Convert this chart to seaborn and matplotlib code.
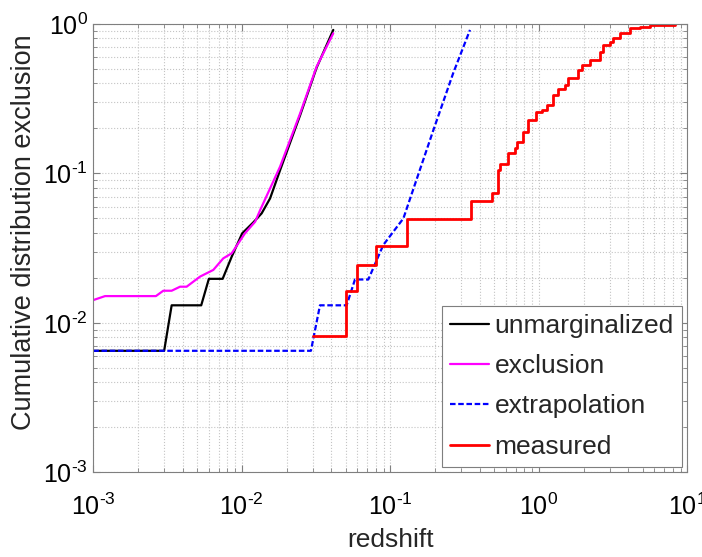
import matplotlib

matplotlib.use("Agg")
import matplotlib.pyplot as plt
from matplotlib.ticker import FuncFormatter
import numpy as np
import seaborn as sns

# values (redshift, cumulative fraction)
unmarg_z = [0.001, 0.0030, 0.00337, 0.00533, 0.0060, 0.00743, 0.00855, 0.01006,
            0.0119, 0.0136, 0.0155, 0.0181, 0.0247, 0.0319, 0.0413]
unmarg_c = [0.0065, 0.0065, 0.0131, 0.0131, 0.0197, 0.0197, 0.0277, 0.0397,
            0.0468, 0.054, 0.068, 0.105, 0.245, 0.51, 0.912]

excl_z = [0.001, 0.0012, 0.00264, 0.00296, 0.00337, 0.00384, 0.00425, 0.00524,
          0.00643, 0.0075, 0.00855, 0.0105, 0.0123, 0.0133, 0.0181, 0.0247,
          0.0319, 0.0413]
excl_c = [0.0142, 0.0151, 0.0151, 0.0164, 0.0164, 0.01745, 0.01745, 0.0204,
          0.0226, 0.027, 0.0292, 0.0397, 0.0475, 0.0569, 0.111, 0.252,
          0.518, 0.866]

extrap_z = [0.001, 0.0292, 0.0336, 0.0508, 0.0578, 0.0711, 0.0897, 0.1225,
            0.158, 0.195, 0.265, 0.344]
extrap_c = [0.0065, 0.0065, 0.0131, 0.0131, 0.0195, 0.0195, 0.0332, 0.0500,
            0.1054, 0.195, 0.468, 0.912]

meas_z = [0.0303, 0.0501, 0.060, 0.0802, 0.130, 0.349, 0.486, 0.529, 0.548,
          0.623, 0.692, 0.710, 0.787, 0.850, 0.957, 1.046, 1.13, 1.252,
          1.352, 1.50, 1.58, 1.845, 1.945, 2.21, 2.58, 2.72, 3.02, 3.18,
          3.52, 4.11, 4.80, 5.60, 8.3]
meas_c = [0.0082, 0.0163, 0.0244, 0.0327, 0.0493, 0.0653, 0.0743, 0.1054,
          0.115, 0.136, 0.147, 0.163, 0.190, 0.228, 0.259, 0.266, 0.287,
          0.335, 0.366, 0.391, 0.433, 0.492, 0.531, 0.574, 0.652, 0.723,
          0.761, 0.802, 0.867, 0.936, 0.959, 0.985, 1.0]


def pow10_label(v, pos):
    # matlab-style label: 10 with a short hyphen in the exponent
    e = int(round(np.log10(v)))
    exp = str(e).replace("-", r"\text{-}")
    return r"$10^{%s}$" % exp


def main() -> None:
    sns.set_style("ticks")
    plt.rcParams["font.family"] = ["Liberation Sans", "DejaVu Sans"]
    plt.rcParams["mathtext.fontset"] = "custom"
    plt.rcParams["mathtext.rm"] = "Liberation Sans"
    plt.rcParams["mathtext.it"] = "Liberation Sans:italic"

    fig = plt.figure(figsize=(7.02, 5.57), dpi=100)
    ax = fig.add_axes([0.1329, 0.1521, 0.8462, 0.8049])

    lw = 1.6
    sns.lineplot(x=unmarg_z, y=unmarg_c, ax=ax, color="black", lw=lw,
                 sort=False, estimator=None, label="unmarginalized")
    sns.lineplot(x=excl_z, y=excl_c, ax=ax, color="#ff00ff", lw=lw,
                 sort=False, estimator=None, label="exclusion")
    sns.lineplot(x=extrap_z, y=extrap_c, ax=ax, color="#0000ff", lw=lw,
                 linestyle=(0, (2.5, 1.2)), sort=False, estimator=None,
                 label="extrapolation")
    sns.lineplot(x=meas_z, y=meas_c, ax=ax, color="#ff0000", lw=lw + 0.4,
                 drawstyle="steps-post", sort=False, estimator=None,
                 label="measured")

    ax.set_xscale("log")
    ax.set_yscale("log")
    ax.set_xlim(1e-3, 1e1)
    ax.set_ylim(1e-3, 1e0)
    ax.xaxis.set_major_formatter(FuncFormatter(pow10_label))
    ax.yaxis.set_major_formatter(FuncFormatter(pow10_label))

    ax.grid(True, which="both", linestyle=":", color="#c4c4c4", linewidth=0.8)
    ax.set_axisbelow(True)
    for sp in ax.spines.values():
        sp.set_visible(True)
        sp.set_color("#7f7f7f")
        sp.set_linewidth(0.8)
    ax.tick_params(which="both", direction="in", top=True, right=True,
                   color="#7f7f7f", labelsize=18, labelcolor="black")
    ax.tick_params(which="major", length=5)
    ax.tick_params(which="minor", length=3)
    ax.tick_params(axis="x", which="major", pad=15)
    ax.tick_params(axis="y", which="major", pad=4)

    ax.set_xlabel("redshift", fontsize=19, labelpad=6)
    ax.set_ylabel("Cumulative distribution exclusion", fontsize=19.5)
    ax.yaxis.set_label_coords(-0.094, 0.536)

    leg = ax.legend(loc="lower right", fontsize=19, frameon=True, fancybox=False,
                    edgecolor="#7f7f7f", framealpha=1, borderaxespad=0.21,
                    handlelength=1.5, handletextpad=0.2, labelspacing=0.62,
                    borderpad=0.3)
    leg.get_frame().set_linewidth(0.8)

    fig.savefig("out.png", dpi=100)
    plt.close(fig)


if __name__ == "__main__":
    main()
